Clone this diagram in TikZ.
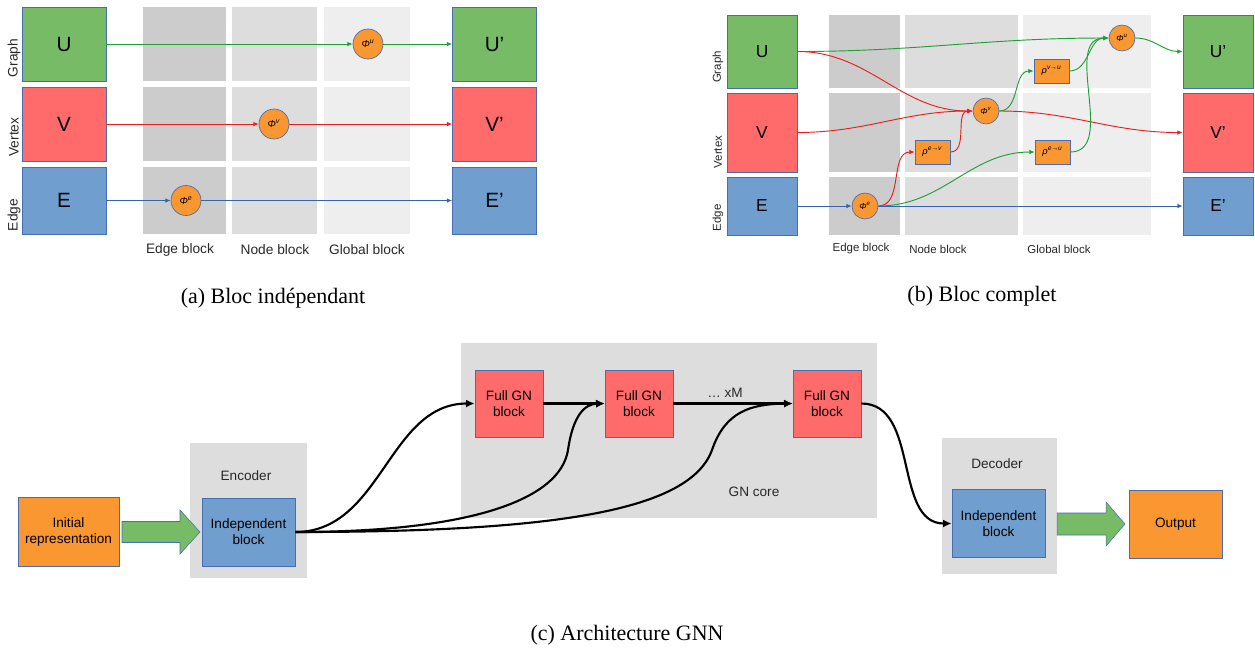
\documentclass[tikz,border=0pt]{standalone}
\usepackage{fontspec}
\setmainfont{Liberation Serif}
\setsansfont{Liberation Sans}
\usetikzlibrary{arrows.meta,positioning}

\definecolor{ugreen}{RGB}{119,187,102}
\definecolor{vred}{RGB}{255,107,107}
\definecolor{eblue}{RGB}{112,158,206}
\definecolor{phiorange}{RGB}{250,151,48}
\definecolor{edgeblue}{RGB}{70,110,180}
\definecolor{cellA}{RGB}{204,204,204}
\definecolor{cellB}{RGB}{221,221,221}
\definecolor{cellC}{RGB}{238,238,238}
\definecolor{lgreen}{RGB}{30,160,55}
\definecolor{lred}{RGB}{235,30,30}
\definecolor{lblue}{RGB}{50,100,175}
\definecolor{lbltext}{RGB}{40,40,40}

\begin{document}
\begin{tikzpicture}[x=0.75pt,y=-0.75pt,
		blk/.style={draw=edgeblue,line width=0.5pt,inner sep=1pt,align=center,font=\sffamily},
		abox/.style={blk,minimum width=63pt,font=\sffamily\fontsize{15.5}{18}\selectfont},
		bbox/.style={blk,minimum width=52.5pt,font=\sffamily\fontsize{13}{15}\selectfont},
		cbox/.style={blk,minimum width=69.75pt,minimum height=51pt,font=\sffamily\fontsize{10.2}{12}\selectfont},
		fullbox/.style={blk,fill=vred,minimum width=51pt,minimum height=50.25pt,font=\sffamily\fontsize{10.2}{12}\selectfont},
		phia/.style={circle,draw=edgeblue,fill=phiorange,line width=0.5pt,inner sep=0pt,minimum size=22.5pt,font=\sffamily\fontsize{7.5}{9}\selectfont},
		phib/.style={phia,minimum size=19.5pt,font=\sffamily\fontsize{6.5}{8}\selectfont},
		rhobox/.style={blk,fill=phiorange,minimum width=26.25pt,minimum height=18pt,inner sep=0pt,font=\sffamily\fontsize{7}{8}\selectfont},
		rowlbl/.style={rotate=90,text=lbltext,font=\sffamily\fontsize{10.3}{12}\selectfont},
		collbl/.style={text=lbltext,font=\sffamily\fontsize{10.3}{12}\selectfont},
		smalllbl/.style={text=lbltext,font=\sffamily\fontsize{8.6}{10}\selectfont},
		caption/.style={font=\fontsize{16.5}{20}\selectfont},
		gline/.style={draw=lgreen,line width=0.7pt,-{Latex[length=4pt,width=3.5pt]}},
		rline/.style={gline,draw=lred},
		bline/.style={gline,draw=lblue},
		flow/.style={line width=1.6pt,-{Latex[length=6.5pt,width=6pt]}},
		bigarrow/.style={fill=ugreen,draw=edgeblue,line width=0.4pt}
	]
	\useasboundingbox (0,0) rectangle (1255,651);

	\foreach \ya/\yb in {7/81,87/161,167/234}{
		\fill[cellA] (143,\ya) rectangle (226,\yb);
		\fill[cellB] (232,\ya) rectangle (317,\yb);
		\fill[cellC] (324,\ya) rectangle (410,\yb);
	}
	\node[abox,fill=ugreen,minimum height=55.5pt] (Ua) at (64,44) {U};
	\node[abox,fill=vred,minimum height=55.5pt] (Va) at (64,124) {V};
	\node[abox,fill=eblue,minimum height=50.25pt] (Ea) at (64,200.5) {E};
	\node[abox,fill=ugreen,minimum height=55.5pt] (Uoa) at (494.5,44) {U'};
	\node[abox,fill=vred,minimum height=55.5pt] (Voa) at (494.5,124) {V'};
	\node[abox,fill=eblue,minimum height=50.25pt] (Eoa) at (494.5,200.5) {E'};
	\node[rowlbl] (graa) at (14,58) {Graph};
	\node[rowlbl] (vera) at (14,137) {Vertex};
	\node[rowlbl] (edga) at (14,215) {Edge};
	\node[collbl] (eblka) at (180,250) {Edge block};
	\node[collbl] (nblka) at (275,250) {Node block};
	\node[collbl] (gblka) at (367,250) {Global block};
	\node[phia] (phiua) at (368,44) {\textit{Φ}\textsuperscript{\textit{u}}};
	\node[phia] (phiva) at (274,124) {\textit{Φ}\textsuperscript{\textit{v}}};
	\node[phia] (phiea) at (186,200.5) {\textit{Φ}\textsuperscript{\textit{e}}};
	\draw[gline] (Ua.east) -- (phiua.west);
	\draw[gline] (phiua.east) -- (Uoa.west);
	\draw[rline] (Va.east) -- (phiva.west);
	\draw[rline] (phiva.east) -- (Voa.west);
	\draw[bline] (Ea.east) -- (phiea.west);
	\draw[bline] (phiea.east) -- (Eoa.west);
	\node[caption] (capa) at (273,298) {(a) Bloc indépendant};

	\foreach \ya/\yb in {15/88,93/172,177/235}{
		\fill[cellA] (829,\ya) rectangle (900,\yb);
		\fill[cellB] (905,\ya) rectangle (1018,\yb);
		\fill[cellC] (1023,\ya) rectangle (1151,\yb);
	}
	\node[bbox,fill=ugreen,minimum height=54.75pt] (Ub) at (762,51.5) {U};
	\node[bbox,fill=vred,minimum height=59.25pt] (Vb) at (762,132.5) {V};
	\node[bbox,fill=eblue,minimum height=43.5pt] (Eb) at (762,206) {E};
	\node[bbox,fill=ugreen,minimum height=54.75pt] (Uob) at (1218,51.5) {U'};
	\node[bbox,fill=vred,minimum height=59.25pt] (Vob) at (1218,132.5) {V'};
	\node[bbox,fill=eblue,minimum height=43.5pt] (Eob) at (1218,206) {E'};
	\node[rowlbl,font=\sffamily\fontsize{8.6}{10}\selectfont] (grab) at (718,67) {Graph};
	\node[rowlbl,font=\sffamily\fontsize{8.6}{10}\selectfont] (verb) at (718,152) {Vertex};
	\node[rowlbl,font=\sffamily\fontsize{8.6}{10}\selectfont] (edgb) at (718,218) {Edge};
	\node[smalllbl] (eblkb) at (861,249) {Edge block};
	\node[smalllbl] (nblkb) at (938,249) {Node block};
	\node[smalllbl] (gblkb) at (1059,249) {Global block};
	\node[phib] (phiub) at (1122,38) {\textit{Φ}\textsuperscript{\textit{u}}};
	\node[phib] (phivb) at (986,111) {\textit{Φ}\textsuperscript{\textit{v}}};
	\node[phib] (phieb) at (865,206) {\textit{Φ}\textsuperscript{\textit{e}}};
	\node[rhobox] (rhoev) at (932.5,152) {\textit{ρ}\textsuperscript{\textit{e→v}}};
	\node[rhobox] (rhovu) at (1051.5,71) {\textit{ρ}\textsuperscript{\textit{v→u}}};
	\node[rhobox] (rhoeu) at (1052.5,152) {\textit{ρ}\textsuperscript{\textit{e→u}}};
	\draw[gline] (Ub.east) to[out=0,in=180] (phiub.west);
	\draw[rline] (Ub.east) to[out=0,in=180] (phivb.west);
	\draw[rline] (Vb.east) to[out=0,in=180] (phivb.west);
	\draw[rline] (phivb.east) to[out=0,in=180] (Vob.west);
	\draw[gline] (phivb.east) to[out=0,in=180] (rhovu.west);
	\draw[gline] (rhovu.east) to[out=0,in=180] (phiub.west);
	\draw[rline] (phieb.east) to[out=0,in=180] (rhoev.west);
	\draw[rline] (rhoev.east) to[out=0,in=180] (phivb.west);
	\draw[gline] (phieb.east) to[out=0,in=180] (rhoeu.west);
	\draw[gline] (rhoeu.east) to[out=0,in=180] (phiub.west);
	\draw[gline] (phiub.east) to[out=0,in=180] (Uob.west);
	\draw[bline] (Eb.east) -- (phieb.west);
	\draw[bline] (phieb.east) -- (Eob.west);
	\node[caption] (capb) at (982,296) {(b) Bloc complet};

	\fill[cellB] (190,443) rectangle (307,578);
	\fill[cellB] (461,343) rectangle (877,518);
	\fill[cellB] (942,438) rectangle (1057,574);
	\node[collbl,font=\sffamily\fontsize{10.2}{12}\selectfont] (enc) at (246,476) {Encoder};
	\node[collbl,font=\sffamily\fontsize{10.2}{12}\selectfont] (core) at (754,492) {GN core};
	\node[collbl,font=\sffamily\fontsize{10.2}{12}\selectfont] (dec) at (997,464) {Decoder};
	\node[cbox,fill=phiorange,minimum width=75.75pt,minimum height=51.75pt] (init) at (68.5,532) {Initial\\representation};
	\node[cbox,fill=eblue] (ind1) at (248.5,532) {Independent\\block};
	\node[fullbox] (full1) at (509,403.5) {Full GN\\block};
	\node[fullbox] (full2) at (639,403.5) {Full GN\\block};
	\node[fullbox] (full3) at (827,403.5) {Full GN\\block};
	\node[cbox,fill=eblue] (ind2) at (998.5,523.5) {Independent\\block};
	\node[cbox,fill=phiorange] (out) at (1175.5,524) {Output};
	\node[collbl,font=\sffamily\fontsize{10.2}{12}\selectfont] (rep) at (725,393) {… xM};
	\draw[bigarrow] (122,521.5) -- (180,521.5) -- (180,510) -- (200,532) -- (180,554) -- (180,542.5) -- (122,542.5) -- cycle;
	\draw[bigarrow] (1057,513) -- (1106,513) -- (1106,502) -- (1125,524) -- (1106,546) -- (1106,535) -- (1057,535) -- cycle;
	\draw[flow] (ind1.east) to[out=0,in=180] (full1.west);
	\draw[flow] (ind1.east) .. controls (470,532) and (560,500) .. (568,450) .. controls (573,415) and (585,404) .. (full2.west);
	\draw[flow] (ind1.east) .. controls (560,532) and (690,510) .. (712,450) .. controls (725,412) and (750,404) .. (full3.west);
	\draw[flow] (full1.east) -- (full2.west);
	\draw[flow] (full2.east) -- (full3.west);
	\draw[flow] (full3.east) to[out=0,in=180] (ind2.west);
	\node[caption] (capc) at (627,635) {(c) Architecture GNN};
\end{tikzpicture}
\end{document}
